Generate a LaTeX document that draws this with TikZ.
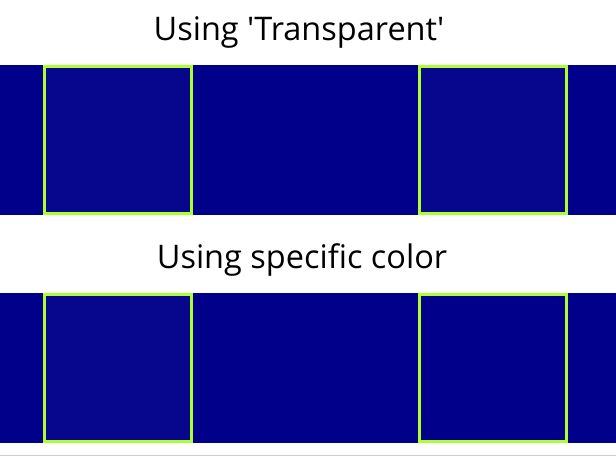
\documentclass[tikz,border=0pt]{standalone}
\usepackage{fontspec}
\setmainfont{Open Sans}
\definecolor{cband}{RGB}{0,0,139}
\definecolor{cclear}{RGB}{7,7,141}
\definecolor{cedge}{RGB}{173,255,47}
\definecolor{crule}{RGB}{204,204,204}
\tikzset{
  title/.style={anchor=base,inner sep=0pt,font=\fontsize{32.5}{38}\selectfont},
  tile/.style={draw=cedge,line width=3pt},
}
% #1 = top of band, #2 = fill of right tile
\newcommand{\tileband}[2]{%
  \fill[cband] (0,#1) rectangle (616,#1+150);
  \filldraw[tile,fill=cclear] (44.5,#1+1.5) rectangle (191.5,#1+148.5);
  \filldraw[tile,fill=#2] (419.5,#1+1.5) rectangle (566.5,#1+148.5);
}

\begin{document}
\begin{tikzpicture}[x=1pt,y=-1pt]

  % fixed canvas
  \useasboundingbox[fill=white] (0,0) rectangle (616,456);

  % ---------------- upper band ----------------
  \node[title] (top) at (299,40) {Using \textquotesingle Transparent\textquotesingle};
  \tileband{65}{cclear}

  % ---------------- lower band ----------------
  \node[title] (bottom) at (302,268) {Using specific color};
  \tileband{293}{cband}

  % thin rule at the foot
  \draw[crule,line width=1pt] (0,455.5) -- (616,455.5);

\end{tikzpicture}
\end{document}
